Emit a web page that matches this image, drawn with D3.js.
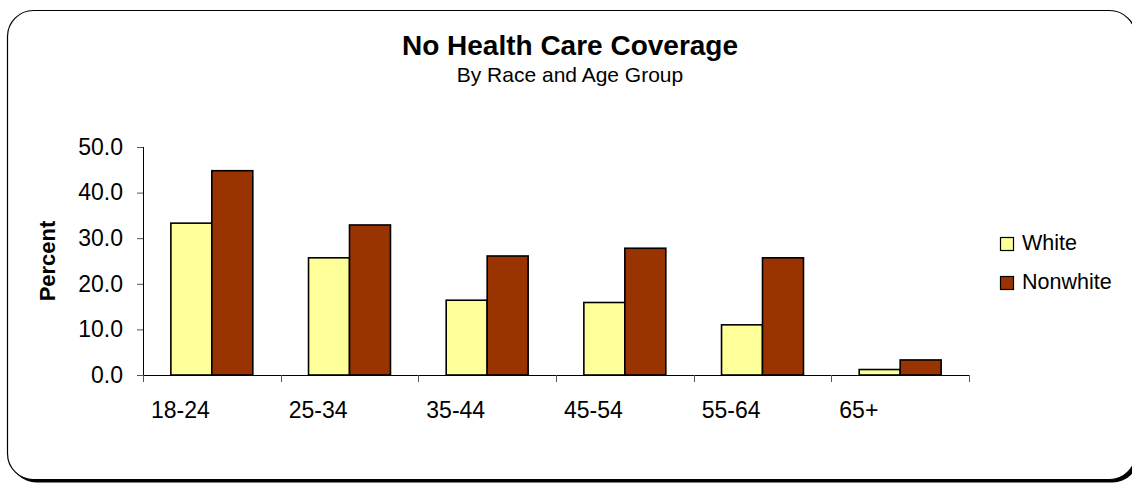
<!DOCTYPE html>
<html>
<head>
<meta charset="utf-8">
<script src="https://cdn.jsdelivr.net/npm/d3@7"></script>
<style>
  html, body { margin: 0; padding: 0; background: #fff; }
  svg { display: block; font-family: 'Liberation Sans', Arial, sans-serif; }
</style>
</head>
<body>
<div id="chart"></div>
<script>
const ageGroups = ['18-24', '25-34', '35-44', '45-54', '55-64', '65+'];
const seriesNames = ['White', 'Nonwhite'];
const whiteValues = [33.3, 25.7, 16.4, 15.9, 11.0, 1.2];
const nonwhiteValues = [44.8, 32.9, 26.1, 27.8, 25.7, 3.3];
const yTicks = [0, 10, 20, 30, 40, 50];
const colors = { White: '#ffff99', Nonwhite: '#993300' };

const width = 1132, height = 483;
const margin = { top: 147, right: 163, bottom: 108, left: 143 };

const svg = d3.select('#chart').append('svg')
    .attr('width', width)
    .attr('height', height);

// Frame with shadow
svg.append('rect')
    .attr('x', 10.5).attr('y', 13.5)
    .attr('width', 1128).attr('height', 469)
    .attr('rx', 26).attr('ry', 26)
    .attr('fill', '#000');
svg.append('rect')
    .attr('x', 7.5).attr('y', 10.5)
    .attr('width', 1128).attr('height', 469)
    .attr('rx', 26).attr('ry', 26)
    .attr('fill', '#fff')
    .attr('stroke', '#000')
    .attr('stroke-width', 1.2);

// Titles
svg.append('text')
    .attr('x', 570).attr('y', 55)
    .attr('text-anchor', 'middle')
    .attr('font-weight', 'bold')
    .attr('font-size', 28)
    .text('No Health Care Coverage');
svg.append('text')
    .attr('x', 570).attr('y', 82)
    .attr('text-anchor', 'middle')
    .attr('font-size', 21)
    .text('By Race and Age Group');

const rows = ageGroups.map((g, i) => ({ group: g, White: whiteValues[i], Nonwhite: nonwhiteValues[i] }));

const x = d3.scaleBand()
    .domain(ageGroups)
    .range([margin.left, width - margin.right])
    .padding(0);

const xSub = d3.scaleBand()
    .domain(seriesNames)
    .range([0, x.bandwidth()])
    .paddingInner(0)
    .paddingOuter(0.68);

const y = d3.scaleLinear()
    .domain([0, 50])
    .range([height - margin.bottom, margin.top]);

// Bars
const groups = svg.append('g').selectAll('g')
    .data(rows)
    .join('g')
    .attr('transform', d => `translate(${x(d.group)},0)`);

groups.selectAll('rect')
    .data(d => seriesNames.map(s => ({ key: s, value: d[s] })))
    .join('rect')
    .attr('x', d => xSub(d.key))
    .attr('y', d => y(d.value))
    .attr('width', xSub.bandwidth())
    .attr('height', d => y(0) - y(d.value))
    .attr('fill', d => colors[d.key])
    .attr('stroke', '#000')
    .attr('stroke-width', 1.6);

// Y axis
const yAxis = svg.append('g')
    .attr('transform', `translate(${margin.left},0)`)
    .call(d3.axisLeft(y).tickValues(yTicks).tickFormat(d3.format('.1f')).tickSize(6).tickPadding(14));
yAxis.select('.domain').attr('stroke', '#000').attr('d', `M0.5,${y(50)}V${y(0)}`);
yAxis.selectAll('.tick line').attr('stroke', '#555');
yAxis.selectAll('.tick text')
    .attr('font-size', 23)
    .attr('font-family', "'Liberation Sans', Arial, sans-serif")
    .attr('fill', '#000');

// X axis
const xAxis = svg.append('g')
    .attr('transform', `translate(0,${y(0)})`)
    .call(d3.axisBottom(x).tickSize(0).tickFormat(''));
xAxis.select('.domain').attr('stroke', '#000').attr('d', `M${margin.left},0.5H${width - margin.right}`);
xAxis.selectAll('.tick').remove();

const xTickPos = ageGroups.map(g => x(g)).concat([x.range()[1]]);
xAxis.selectAll('line.cat-tick')
    .data(xTickPos)
    .join('line')
    .attr('class', 'cat-tick')
    .attr('x1', d => Math.round(d) + 0.5).attr('x2', d => Math.round(d) + 0.5)
    .attr('y1', 0).attr('y2', 7)
    .attr('stroke', '#555');

xAxis.selectAll('text.cat-label')
    .data(ageGroups)
    .join('text')
    .attr('class', 'cat-label')
    .attr('x', d => x(d) + 8)
    .attr('y', 43)
    .attr('text-anchor', 'start')
    .attr('font-family', "'Liberation Sans', Arial, sans-serif")
    .attr('font-size', 23)
    .attr('fill', '#000')
    .text(d => d);

// Y axis title
svg.append('text')
    .attr('transform', `translate(55,${(y(0) + y(50)) / 2}) rotate(-90)`)
    .attr('text-anchor', 'middle')
    .attr('font-weight', 'bold')
    .attr('font-size', 22)
    .text('Percent');

// Legend
const legend = svg.append('g')
    .attr('transform', 'translate(1000,237)');
const items = legend.selectAll('g')
    .data(seriesNames)
    .join('g')
    .attr('transform', (d, i) => `translate(0,${i * 39})`);
items.append('rect')
    .attr('x', 0.5).attr('y', 0.5)
    .attr('width', 13).attr('height', 13)
    .attr('fill', d => colors[d])
    .attr('stroke', '#000')
    .attr('stroke-width', 1.2);
items.append('text')
    .attr('x', 22).attr('y', 13)
    .attr('font-size', 21.5)
    .attr('fill', '#000')
    .text(d => d);
</script>
</body>
</html>
